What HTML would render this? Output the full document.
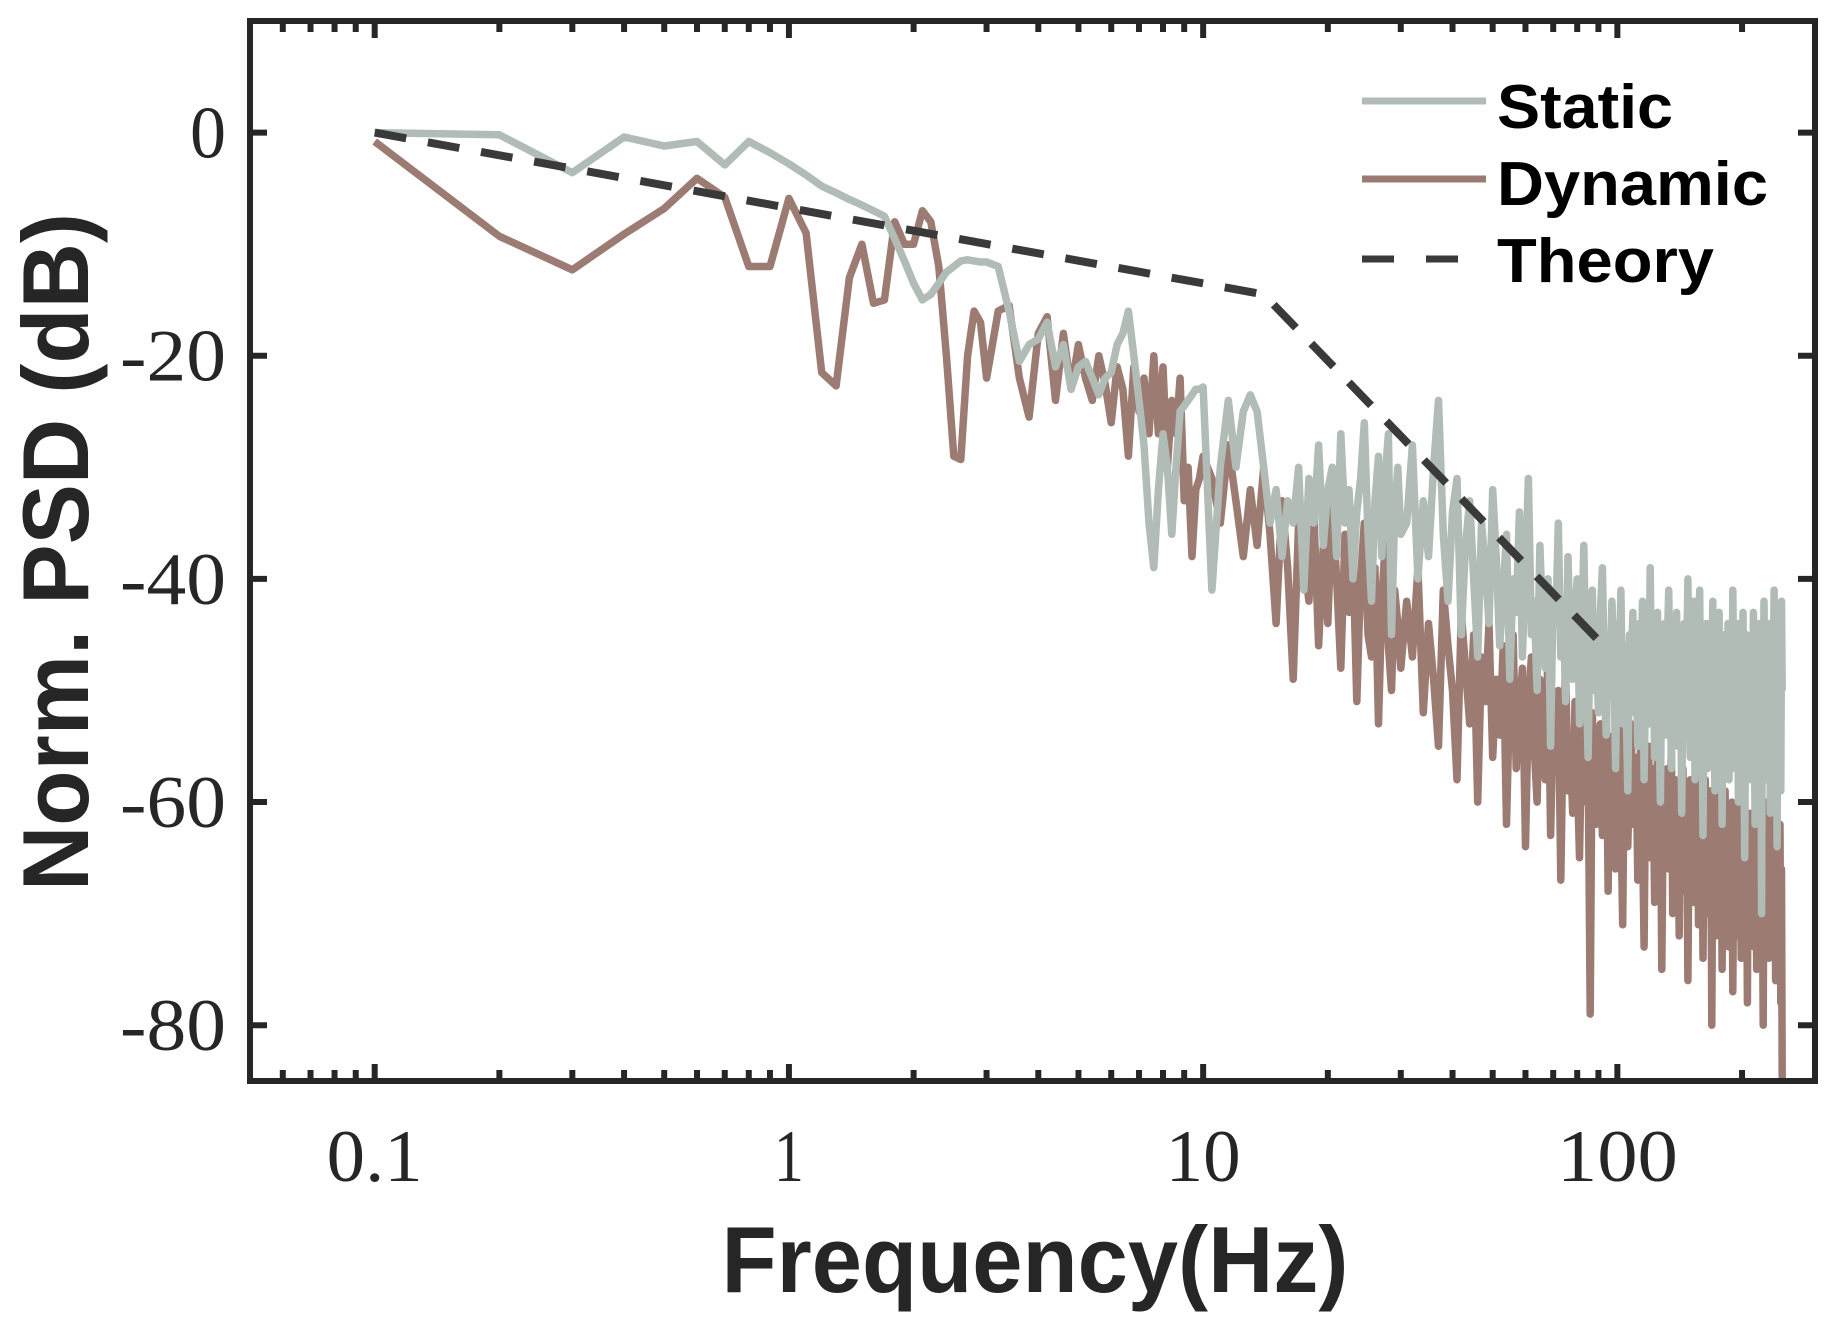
<!DOCTYPE html>
<html><head><meta charset="utf-8"><style>
html,body{margin:0;padding:0;background:#fff;}
svg{display:block;}
</style></head><body>
<svg id="chart" width="1839" height="1335" viewBox="0 0 1839 1335" xmlns="http://www.w3.org/2000/svg">
<rect x="0" y="0" width="1839" height="1335" fill="#fff"/>
<g id="plot"></g>
<g id="axes"></g>
<text x="1035" y="1292" text-anchor="middle" font-family="Liberation Sans, sans-serif" font-weight="bold" font-size="94" fill="#262626" textLength="627" lengthAdjust="spacingAndGlyphs">Frequency(Hz)</text>
<text transform="translate(88,552) rotate(-90)" x="0" y="0" text-anchor="middle" font-family="Liberation Sans, sans-serif" font-weight="bold" font-size="94" fill="#262626" textLength="678" lengthAdjust="spacingAndGlyphs">Norm. PSD (dB)</text>
<g>
<line x1="1362" y1="101" x2="1486" y2="101" stroke="#b0bcb5" stroke-width="7"/>
<text x="1497" y="128" font-family="Liberation Sans, sans-serif" font-weight="bold" font-size="62" fill="#000" textLength="176" lengthAdjust="spacingAndGlyphs">Static</text>
<line x1="1362" y1="179" x2="1486" y2="179" stroke="#9c7b73" stroke-width="7"/>
<text x="1497" y="205" font-family="Liberation Sans, sans-serif" font-weight="bold" font-size="62" fill="#000" textLength="271" lengthAdjust="spacingAndGlyphs">Dynamic</text>
<line x1="1362" y1="259" x2="1486" y2="259" stroke="#3a3a3a" stroke-width="7" stroke-dasharray="32,32"/>
<text x="1497" y="282" font-family="Liberation Sans, sans-serif" font-weight="bold" font-size="62" fill="#000" textLength="217" lengthAdjust="spacingAndGlyphs">Theory</text>
</g>
</svg>
<script>
// frequency grid segments: [start, end, step]
const freqSegments = [[0.1,3.0,0.1],[3.2,10.0,0.2],[10.5,30,0.5],[31,250,1]];
const staticValues = [
0,-0.2,-3.6,-0.4,-1.2,-0.8,-2.9,-0.8,-1.8,-2.8,-3.8,-4.8,-5.4,-6.0,-6.5,-7.0,-7.5,-9.5,-11.5,-13.5,-15,-14.5,-13.5,-12.5,-12,-11.5,-11.4,-11.5,-11.6,-11.6,
-12,-16,-20.5,-19,-18.5,-17,-21,-19,-23,-21,-20.5,-22,-23.5,-22,-21.5,-19,-18,-16,-20,-24,-28,-35,-39,-32,-27,-30,-36,-30,-25,-24.5,-24,-23.5,-23,-23,-22.8,
-41,-30,-24,-30,-25,-23.5,-25,-30,-35,-32,-38,-33,-35,-30,-41,-31,-35,-28,-37,-32,-30,-38,-27,-35,-32,-40,-34,-31,-26,-36,-42,-33,-29,-38,-31,-27,-45,-34,-30,-36,
-35,-28,-40,-33,-38,-30,-24,-36,-42,-34,-31,-45,-37,-33,-40,-47,-35,-39,-44,-32,
-38,-46,-41,-36,-49,-40,-43,-34,-47,-39,-31,-45,-42,-50,-37,-44,-48,-40,-55,-41,
-44,-35,-47,-42,-51,-38,-46,-49,-43,-40,-53,-45,-37,-48,-56,-44,-41,-50,-46,-52,
-43,-39,-48,-54,-45,-50,-42,-47,-57,-44,-49,-41,-53,-46,-51,-59,-45,-48,-43,-52,
-47,-55,-44,-50,-42,-58,-49,-46,-53,-39,-51,-45,-56,-48,-43,-52,-60,-47,-50,-44,
-54,-46,-41,-49,-57,-45,-52,-48,-43,-55,-50,-46,-61,-49,-44,-53,-47,-40,-51,-56,
-45,-50,-42,-58,-48,-53,-46,-41,-55,-49,-63,-47,-52,-44,-57,-50,-45,-54,-48,-42,
-51,-59,-46,-49,-55,-43,-52,-47,-62,-50,-45,-56,-48,-53,-44,-58,-50,-46,-54,-41,
-49,-57,-47,-52,-44,-60,-51,-46,-55,-48,-43,-53,-65,-50,-45,-56,-49,-52,-46,-58,
-47,-54,-43,-51,-62,-48,-45,-57,-50,-44,-53,-49,-70,-47,-55,-42,-51,-58,-46,-52,
-48,-56,-44,-61,-50,-45,-53,-49,-41,-57,-47,-52,-64,-46,-55,-43,-51,-59,-42,-50
];
const dynamicValues = [
-0.8,-9.3,-12.3,-9.1,-6.8,-4.1,-5.8,-12,-12,-5.9,-9,-21.5,-22.7,-13,-10,-15.3,-15,-8,-10,-10,-7,-8,-12,-20,-29,-29.3,-20,-16,-17,-22,
-16,-15.5,-22,-25.5,-18,-16.5,-24,-18,-23,-19,-22,-24,-20,-22.5,-26,-21,-23,-29,-21,-25,-22,-27,-20,-27,-21,-30,-24,-27,-22,-33,-30,-38,-32,-31,-29,
-31,-35,-28,-33,-38,-32,-37,-30,-36,-44,-33,-39,-49,-35,-38,-42,-34,-46,-37,-44,-33,-40,-48,-36,-43,-38,-51,-40,-35,-45,-47,-39,-53,-42,-37,-46,-50,-41,-44,-48,
-42,-47,-39,-52,-44,-49,-55,-41,-46,-50,-58,-43,-48,-53,-45,-60,-47,-51,-44,-56,
-49,-54,-46,-62,-50,-45,-57,-52,-48,-64,-51,-47,-55,-60,-49,-53,-58,-46,-63,-52,
-56,-50,-67,-53,-48,-59,-55,-61,-51,-57,-65,-54,-49,-60,-56,-79,-52,-58,-62,-55,
-53,-63,-57,-50,-68,-56,-60,-54,-66,-59,-52,-61,-71,-55,-58,-64,-57,-53,-62,-60,
-56,-67,-59,-54,-63,-73,-58,-61,-55,-65,-60,-57,-69,-62,-56,-64,-59,-75,-61,-58,
-63,-57,-66,-60,-55,-70,-62,-58,-65,-61,-72,-59,-64,-57,-68,-62,-60,-76,-63,-58,
-65,-61,-69,-59,-64,-57,-71,-62,-66,-60,-74,-63,-58,-67,-61,-70,-64,-59,-80,-62,
-66,-60,-72,-63,-58,-68,-64,-61,-75,-62,-67,-59,-70,-65,-61,-73,-63,-66,-60,-77,
-64,-69,-61,-72,-65,-60,-68,-63,-74,-62,-66,-71,-59,-67,-64,-78,-62,-69,-65,-61,
-70,-63,-67,-73,-61,-66,-75,-64,-60,-69,-65,-72,-62,-68,-80,-63,-66,-71,-60,-67,
-64,-74,-62,-69,-66,-61,-72,-65,-68,-63,-76,-60,-70,-67,-64,-73,-62,-78,-66,-85
];
const theoryFreqs = [0.1, 14, 90];
const theoryValues = [0, -14.5, -45.5];
const yTicks = [0, -20, -40, -60, -80];
const yTickLabels = ["0", "-20", "-40", "-60", "-80"];
const xTicks = [0.1, 1, 10, 100];
const xTickLabels = ["0.1", "1", "10", "100"];

const NS = "http://www.w3.org/2000/svg";
const L = 250, R = 1815, T = 21, B = 1081;
const xMin = 0.05, xMax = 300, yMin = -85, yMax = 10;
function xs(f){ return L + (Math.log10(f) - Math.log10(xMin)) / (Math.log10(xMax) - Math.log10(xMin)) * (R - L); }
function ys(v){ return T + (yMax - v) / (yMax - yMin) * (B - T); }

const freqs = [];
freqSegments.forEach(s => { const n = Math.round((s[1]-s[0])/s[2]); for (let i=0;i<=n;i++) freqs.push(+(s[0]+i*s[2]).toFixed(2)); });

const plot = document.getElementById('plot');
const axes = document.getElementById('axes');
function mk(tag, attrs, parent){ const e = document.createElementNS(NS, tag); for (const k in attrs) e.setAttribute(k, attrs[k]); parent.appendChild(e); return e; }
function pathFor(fs, vs){ let d=''; const n=Math.min(fs.length, vs.length); for (let i=0;i<n;i++){ d += (i?'L':'M') + xs(fs[i]).toFixed(1) + ' ' + ys(vs[i]).toFixed(1); } return d; }

const dyn = mk('path', {d: pathFor(freqs, dynamicValues), fill:'none', stroke:'#9c7b73', 'stroke-width':7.5, 'stroke-linejoin':'round'}, plot);


const sta = mk('path', {d: pathFor(freqs, staticValues), fill:'none', stroke:'#b0bcb5', 'stroke-width':7.5, 'stroke-linejoin':'round'}, plot);


const the = mk('path', {d: pathFor(theoryFreqs, theoryValues), fill:'none', stroke:'#3a3a3a', 'stroke-width':8, 'stroke-dasharray':'32,22'}, plot);



const box = mk('rect', {x:L, y:T, width:R-L, height:B-T, fill:'none', stroke:'#262626', 'stroke-width':6}, axes);



yTicks.forEach((v,i) => {
  const y = ys(v);
  mk('line', {x1:L, y1:y, x2:L+17, y2:y, stroke:'#262626', 'stroke-width':6}, axes);
  mk('line', {x1:R, y1:y, x2:R-17, y2:y, stroke:'#262626', 'stroke-width':6}, axes);
  const t = mk('text', {x:226, y:y+25, 'text-anchor':'end', 'font-family':'Liberation Serif, serif', 'font-size':74, fill:'#262626'}, axes);
  
  
  t.textContent = yTickLabels[i];
  const w = yTickLabels[i].length === 1 ? 36 : 106;
  t.setAttribute('textLength', w);
  t.setAttribute('lengthAdjust', 'spacingAndGlyphs');
});
for (let dec = -2; dec <= 2; dec++) {
  for (let m = 1; m <= 9; m++) {
    const f = m * Math.pow(10, dec);
    if (f <= xMin || f >= xMax) continue;
    const len = m === 1 ? 17 : 11;
    const x = xs(f);
    mk('line', {x1:x, y1:B, x2:x, y2:B-len, stroke:'#262626', 'stroke-width':6}, axes);
    mk('line', {x1:x, y1:T, x2:x, y2:T+len, stroke:'#262626', 'stroke-width':6}, axes);
  }
}
xTicks.forEach((f,i) => {
  const t = mk('text', {x:xs(f), y:1181, 'text-anchor':'middle', 'font-family':'Liberation Serif, serif', 'font-size':74, fill:'#262626'}, axes);
  
  
  t.textContent = xTickLabels[i];
  const w = [96, 30, 75, 121][i];
  t.setAttribute('textLength', w);
  t.setAttribute('lengthAdjust', 'spacingAndGlyphs');
});
</script>
</body></html>
